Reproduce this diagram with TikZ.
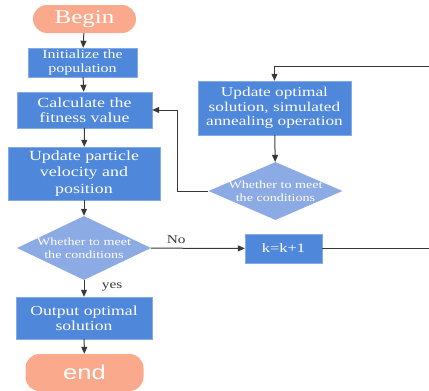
\documentclass[tikz,border=0pt]{standalone}
\usepackage{fontspec}
\setmainfont[FakeStretch=1.28]{Liberation Serif}
\newfontfamily\endfont[FakeStretch=1.28]{Liberation Sans}
\usetikzlibrary{shapes.geometric,arrows.meta}
\definecolor{boxblue}{HTML}{4F87DA}
\definecolor{decblue}{HTML}{8CAAE4}
\definecolor{termsalmon}{HTML}{FBA98C}
\definecolor{linegray}{HTML}{383838}
\tikzset{
  procbox/.style={rectangle, draw=boxblue!70!white, fill=boxblue, text=white, align=center,
    inner sep=0pt, font=\fontsize{14}{15.5}\selectfont},
  decide/.style={diamond, fill=decblue, text=white, align=center, inner sep=-16pt,
    minimum width=134pt, font=\fontsize{11}{12.7}\selectfont},
  terminal/.style={rectangle, rounded corners=14pt, fill=termsalmon, text=white, inner sep=0pt},
  flow/.style={draw=linegray, line width=1pt, -{Triangle[length=7pt,width=6pt]}},
  edgetxt/.style={text=linegray, font=\fontsize{12}{13}\selectfont}
}
\begin{document}
\begin{tikzpicture}[x=1pt, y=-1pt]
  \useasboundingbox (0,0) rectangle (429,391);
  % Main column
  \node[terminal, minimum width=103pt, minimum height=28pt, font=\fontsize{19.5}{21}\selectfont] (begin) at (84.5,19) {Begin};
  \node[procbox, minimum width=109pt, minimum height=29pt, font=\fontsize{12.5}{14}\selectfont] (init) at (82.5,62.5) {Initialize the\\population};
  \node[procbox, minimum width=135pt, minimum height=36pt] (calc) at (84.5,110) {Calculate the\\fitness value};
  \node[procbox, minimum width=152pt, minimum height=53pt, font=\fontsize{14}{16.5}\selectfont] (upd) at (84,173.5) {Update particle\\velocity and\\position};
  \node[decide, minimum height=64pt] (cond) at (84,248) {Whether to meet\\the conditions};
  \node[procbox, minimum width=136pt, minimum height=42pt, font=\fontsize{13.8}{15}\selectfont] (out) at (84,318) {Output optimal\\solution};
  \node[terminal, minimum width=118pt, minimum height=37pt, font=\endfont\fontsize{20}{22}\selectfont] (end) at (84.5,372.5) {end};
  % Right column
  \node[procbox, minimum width=153pt, minimum height=54pt, font=\fontsize{13.5}{14.5}\selectfont] (upopt) at (274.5,108) {Update optimal\\solution, simulated\\annealing operation};
  \node[decide, minimum height=58pt] (cond2) at (275.5,191) {Whether to meet\\the conditions};
  \node[procbox, minimum width=77pt, minimum height=29pt, font=\fontsize{12.9}{14}\selectfont] (kinc) at (283.5,248.5) {k=k+1};
  % Turning points (the return line runs past the right edge)
  \coordinate (backL) at (177,191);
  \coordinate (rtop) at (438,66);
  % Connectors
  \draw[flow] (begin) -- (init);
  \draw[flow] (init) -- (calc);
  \draw[flow] (calc) -- (upd);
  \draw[flow] (upd) -- (cond);
  \draw[flow] (cond) -- node[edgetxt, right=14pt, pos=0.4] {yes} (out);
  \draw[flow] (out) -- (end);
  \draw[flow] (cond) -- node[edgetxt, above=1pt, pos=0.27] {No} (kinc);
  \draw[flow] (kinc.east) -| (rtop) -| (upopt.north);
  \draw[flow] (upopt) -- (cond2);
  \draw[flow] (cond2.west) -- (backL) |- (calc.east);
\end{tikzpicture}
\end{document}
